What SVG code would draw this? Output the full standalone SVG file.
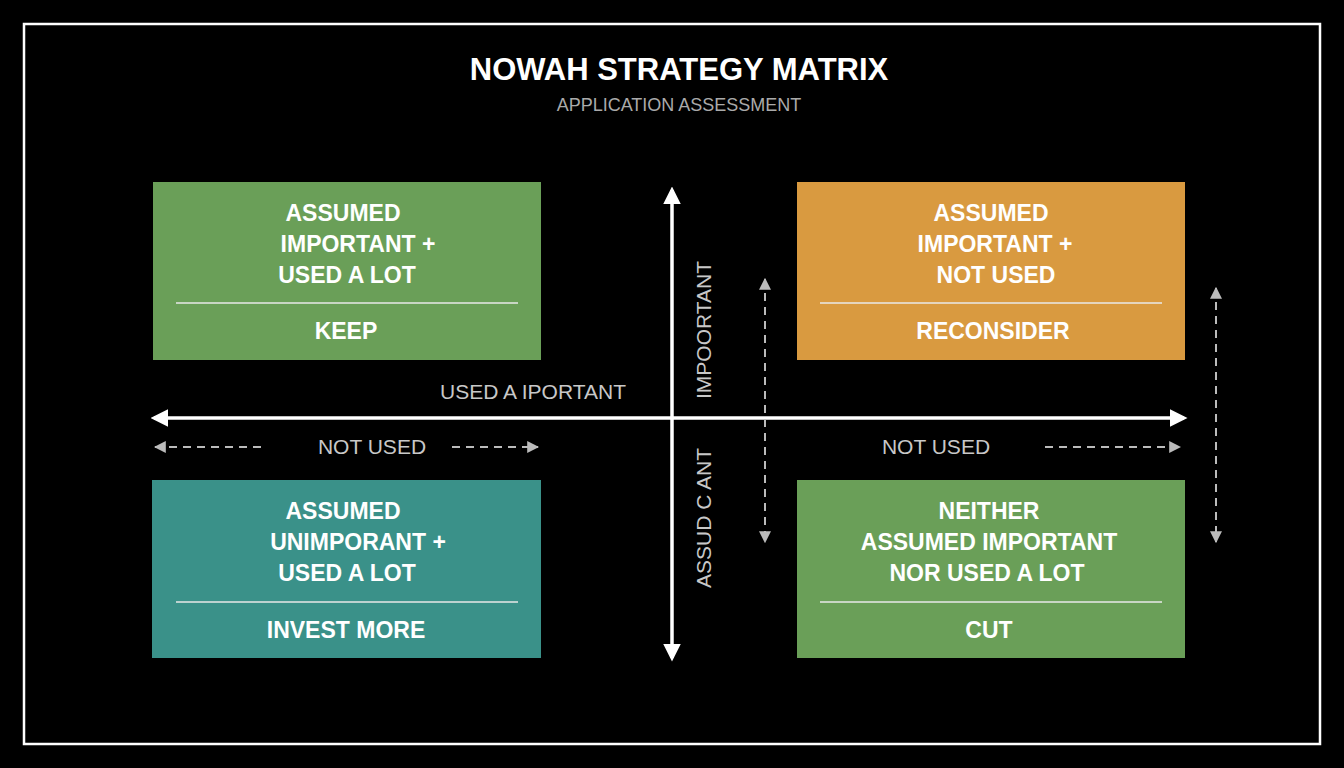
<svg xmlns="http://www.w3.org/2000/svg" width="1344" height="768" viewBox="0 0 1344 768">
<style>
.t{font-family:"Liberation Sans",Arial,sans-serif;font-weight:bold;font-size:23px;fill:#fff;text-anchor:middle}
.g{font-family:"Liberation Sans",Arial,sans-serif;font-size:21px;fill:#c8c8c8;text-anchor:middle}
.div{stroke:#e8e8e8;stroke-width:1.5}
.ax{stroke:#fff;stroke-width:3.5;fill:none}
.da{stroke:#bbb;stroke-width:2;stroke-dasharray:8 6;fill:none}
</style>
<defs>
<marker id="ah" viewBox="0 0 10 10" refX="8" refY="5" markerWidth="5" markerHeight="5" orient="auto-start-reverse"><path d="M0,0L10,5L0,10z" fill="#fff"/></marker>
<marker id="dh" viewBox="0 0 10 10" refX="9" refY="5" markerWidth="6" markerHeight="6" orient="auto-start-reverse"><path d="M0,0L10,5L0,10z" fill="#bbb"/></marker>
</defs>
<rect width="1344" height="768" fill="#000"/>
<rect x="24" y="24" width="1296" height="720" fill="none" stroke="#fff" stroke-width="2.5"/>
<text x="679" y="80" class="t" style="font-size:31px">NOWAH STRATEGY MATRIX</text>
<text x="679" y="111" class="g" style="font-size:18px;fill:#aaa">APPLICATION ASSESSMENT</text>
<g id="connectors">
<line class="ax" x1="154" y1="418" x2="1184" y2="418" marker-start="url(#ah)" marker-end="url(#ah)"/>
<line class="ax" x1="672" y1="190" x2="672" y2="658" marker-start="url(#ah)" marker-end="url(#ah)"/>
<line class="da" x1="155" y1="447" x2="262" y2="447" marker-start="url(#dh)"/>
<line class="da" x1="452" y1="447" x2="538" y2="447" marker-end="url(#dh)"/>
<line class="da" x1="1045" y1="447" x2="1180" y2="447" marker-end="url(#dh)"/>
<line class="da" x1="765" y1="279" x2="765" y2="542" marker-start="url(#dh)" marker-end="url(#dh)"/>
<line class="da" x1="1216" y1="288" x2="1216" y2="542" marker-start="url(#dh)" marker-end="url(#dh)"/>
</g>
<text x="533" y="399" class="g">USED A IPORTANT</text>
<text x="372" y="454" class="g">NOT USED</text>
<text x="936" y="454" class="g">NOT USED</text>
<text class="g" transform="translate(711,330) rotate(-90)">IMPOORTANT</text>
<text class="g" transform="translate(711,518) rotate(-90)">ASSUD  C  ANT</text>
<g id="tl">
<rect x="153" y="182" width="388" height="178" fill="#6a9f58"/>
<text class="t" x="343" y="221">ASSUMED</text><text class="t" x="358" y="252">IMPORTANT +</text><text class="t" x="347" y="283">USED A LOT</text>
<line class="div" x1="176" y1="303" x2="518" y2="303"/><text class="t" x="346" y="339">KEEP</text>
</g>
<g id="tr">
<rect x="797" y="182" width="388" height="178" fill="#d99a40"/>
<text class="t" x="991" y="221">ASSUMED</text><text class="t" x="995" y="252">IMPORTANT +</text><text class="t" x="996" y="283">NOT USED</text>
<line class="div" x1="820" y1="303" x2="1162" y2="303"/><text class="t" x="993" y="339">RECONSIDER</text>
</g>
<g id="bl">
<rect x="152" y="480" width="389" height="178" fill="#3a9189"/>
<text class="t" x="343" y="519">ASSUMED</text><text class="t" x="358" y="550">UNIMPORANT +</text><text class="t" x="347" y="581">USED A LOT</text>
<line class="div" x1="176" y1="602" x2="518" y2="602"/><text class="t" x="346" y="638">INVEST MORE</text>
</g>
<g id="br">
<rect x="797" y="480" width="388" height="178" fill="#6a9f58"/>
<text class="t" x="989" y="519">NEITHER</text><text class="t" x="989" y="550">ASSUMED IMPORTANT</text><text class="t" x="987" y="581">NOR USED A LOT</text>
<line class="div" x1="820" y1="602" x2="1162" y2="602"/><text class="t" x="989" y="638">CUT</text>
</g>
</svg>
